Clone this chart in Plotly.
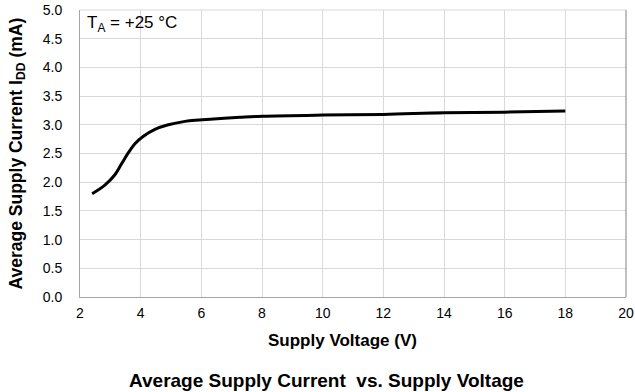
import plotly.graph_objects as go

voltage = [2.40, 2.82, 3.15, 3.37, 3.59, 3.81, 4.09, 4.47, 4.91, 5.46, 5.79, 6.4, 7.28, 8.0, 10.0, 12.0, 14.0, 16.0, 18.0]
current = [1.80, 1.95, 2.13, 2.32, 2.51, 2.67, 2.80, 2.92, 3.00, 3.06, 3.08, 3.10, 3.13, 3.15, 3.17, 3.18, 3.21, 3.22, 3.24]

x_ticks = [2, 4, 6, 8, 10, 12, 14, 16, 18, 20]
y_ticks = [0.0, 0.5, 1.0, 1.5, 2.0, 2.5, 3.0, 3.5, 4.0, 4.5, 5.0]

font_family = "Liberation Sans, Arial, sans-serif"

fig = go.Figure()
fig.add_trace(go.Scatter(
    x=voltage, y=current, mode="lines",
    line=dict(color="black", width=3, shape="spline", smoothing=1.0),
    showlegend=False, hoverinfo="skip",
))

fig.update_layout(
    width=635, height=392,
    margin=dict(l=80, r=9, t=10, b=95),
    paper_bgcolor="white", plot_bgcolor="white",
    font=dict(family=font_family, color="black", size=14),
    xaxis=dict(
        range=[2, 20], tickvals=x_ticks, ticktext=[str(v) for v in x_ticks],
        showgrid=True, gridcolor="#d9d9d9", gridwidth=1,
        showline=True, linecolor="#a6a6a6", linewidth=1,
        zeroline=False, ticks="", tickfont=dict(size=14),
        automargin=False, ticklabelstandoff=3,
    ),
    yaxis=dict(
        range=[0, 5], tickvals=y_ticks, ticktext=[f"{v:.1f}" for v in y_ticks],
        showgrid=True, gridcolor="#d9d9d9", gridwidth=1,
        showline=True, linecolor="#a6a6a6", linewidth=1,
        zeroline=False, ticks="", tickfont=dict(size=14),
        automargin=False, ticklabelstandoff=14,
    ),
    shapes=[
        dict(type="line", xref="paper", yref="paper", x0=1, x1=1, y0=0, y1=1,
             line=dict(color="#808080", width=1)),
        dict(type="line", xref="paper", yref="paper", x0=0, x1=1, y0=1, y1=1,
             line=dict(color="#d9d9d9", width=1)),
    ],
    annotations=[
        dict(text="T<sub>A</sub> = +25 °C", xref="paper", yref="paper",
             x=0.01, y=0.997, xanchor="left", yanchor="top", showarrow=False,
             font=dict(size=17)),
        dict(text="<b>Average Supply Current I<sub>DD</sub> (mA)</b>", xref="paper", yref="paper",
             x=0, y=0.5, xshift=-63, xanchor="center", yanchor="middle", textangle=-90,
             showarrow=False, font=dict(size=17.5)),
        dict(text="<b>Supply Voltage (V)</b>", xref="paper", yref="paper",
             x=0.5, y=0, yshift=-43, xshift=-11, xanchor="center", yanchor="middle",
             showarrow=False, font=dict(size=17)),
        dict(text="<b>Average Supply Current  vs. Supply Voltage</b>", xref="paper", yref="paper",
             x=0.5, y=0, yshift=-83, xshift=-27, xanchor="center", yanchor="middle",
             showarrow=False, font=dict(size=19)),
    ],
)

fig.write_html("out.html", config={"displayModeBar": False},
               post_script="document.body.style.margin='0px';document.body.style.overflow='hidden';")
